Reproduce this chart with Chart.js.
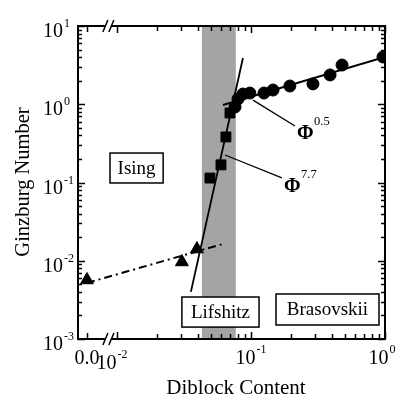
<!DOCTYPE html>
<html>
<head>
<meta charset="utf-8">
<script src="https://cdn.jsdelivr.net/npm/chart.js@4/dist/chart.umd.min.js"></script>
<style>
  body { margin: 0; background: #fff; }
  canvas { display: block; }
</style>
</head>
<body>
<canvas id="myChart" width="395" height="396"></canvas>
<script>
// measured points (x = diblock content, y = Ginzburg number)
const triX = [0, 0.0305, 0.0395];
const triY = [0.00568, 0.00964, 0.0141];
const sqX = [0.0494, 0.0597, 0.065, 0.0697];
const sqY = [0.114, 0.168, 0.382, 0.773];
const circX = [0.076, 0.080, 0.087, 0.098, 0.125, 0.146, 0.195, 0.290, 0.389, 0.478, 0.966];
const circY = [0.922, 1.17, 1.35, 1.39, 1.39, 1.52, 1.71, 1.82, 2.37, 3.17, 4.02];

// fitted lines
const isingFitX = [0, 0.0618];
const isingFitY = [0.0052, 0.0164];
const lifshitzFitX = [0.0356, 0.0871];
const lifshitzFitY = [0.0040, 3.90];
const brasFitX = [0.0618, 1.0];
const brasFitY = [0.978, 4.02];

// shaded crossover band
const band = [0.043, 0.077];

// tick labels
const yTickExps = [-3, -2, -1, 0, 1];
const xTickLabels = [
    { v: 0, text: "0.0" },
    { v: 0.01, base: "10", exp: "-2", dx: -5, dy: 5 },
    { v: 0.1, base: "10", exp: "-1" },
    { v: 1, base: "10", exp: "0", dx: -3 }
];

// zero has no place on a log axis, it sits left of the break
const ZERO_AT = 0.00597;
const BREAK_AT = 0.0087;

const regionBoxes = [
    { text: "Ising", x0: 0.00887, x1: 0.0221, y0: 0.0986, y1: 0.238 },
    { text: "Lifshitz", x0: 0.0305, x1: 0.1148, y0: 0.00142, y1: 0.00344 },
    { text: "Brasovskii", x0: 0.1537, x1: 0.902, y0: 0.00151, y1: 0.00376 }
];

const phiLabels = [
    { exp: "0.5", from: [0.1035, 1.13], to: [0.213, 0.527], at: [0.2244, 0.370] },
    { exp: "7.7", from: [0.0640, 0.2246], to: [0.170, 0.1143], at: [0.1794, 0.0778] }
];

const SERIF = '"Liberation Serif", "DejaVu Serif", serif';

function pts(xs, ys) {
    return xs.map((v, i) => ({ x: v === 0 ? ZERO_AT : v, y: ys[i] }));
}

function drawPow(ctx, base, exp, x, y, size, supY) {
    ctx.font = size + "px " + SERIF;
    ctx.textAlign = "left";
    ctx.fillText(base, x, y);
    const w = ctx.measureText(base).width;
    ctx.font = Math.round(size * 0.62) + "px " + SERIF;
    ctx.fillText(exp, x + w + 1, supY);
}

function powWidth(ctx, base, exp, size) {
    ctx.font = size + "px " + SERIF;
    const w = ctx.measureText(base).width;
    ctx.font = Math.round(size * 0.62) + "px " + SERIF;
    return w + 1 + ctx.measureText(exp).width;
}

const decor = {
    id: "decor",
    beforeDatasetsDraw(chart) {
        const { ctx, chartArea: a, scales: { x } } = chart;
        const x0 = x.getPixelForValue(band[0]);
        const x1 = x.getPixelForValue(band[1]);
        ctx.save();
        ctx.fillStyle = "#a4a4a4";
        ctx.fillRect(x0, a.top, x1 - x0, a.bottom - a.top);
        ctx.restore();
    },
    afterDatasetsDraw(chart) {
        const { ctx, chartArea: a, scales: { x, y } } = chart;
        ctx.save();
        ctx.strokeStyle = "#000";
        ctx.fillStyle = "#000";

        // frame
        ctx.lineWidth = 2;
        ctx.strokeRect(a.left, a.top, a.right - a.left, a.bottom - a.top);

        // y ticks, both sides
        ctx.lineWidth = 1.5;
        ctx.beginPath();
        for (const e of yTickExps) {
            for (let m = 1; m <= 9; m++) {
                if (e === 1 && m > 1) break;
                const py = Math.round(y.getPixelForValue(m * Math.pow(10, e))) + 0.5;
                const len = m === 1 ? 7 : 4;
                ctx.moveTo(a.left, py); ctx.lineTo(a.left + len, py);
                ctx.moveTo(a.right, py); ctx.lineTo(a.right - len, py);
            }
        }
        // x ticks, top and bottom
        const xt = [{ v: ZERO_AT, len: 6 }];
        for (const e of [-2, -1, 0]) {
            for (let m = 1; m <= 9; m++) {
                if (e === 0 && m > 1) break;
                xt.push({ v: m * Math.pow(10, e), len: m === 1 ? 7 : 5 });
            }
        }
        for (const t of xt) {
            const px = Math.round(x.getPixelForValue(t.v)) + 0.5;
            ctx.moveTo(px, a.bottom); ctx.lineTo(px, a.bottom - t.len);
            ctx.moveTo(px, a.top); ctx.lineTo(px, a.top + t.len);
        }
        ctx.stroke();

        // axis breaks
        const bx = x.getPixelForValue(BREAK_AT);
        for (const by of [a.top, a.bottom]) {
            ctx.fillStyle = "#fff";
            ctx.fillRect(bx - 4, by - 2, 6, 4);
            ctx.beginPath();
            ctx.lineWidth = 1.5;
            ctx.moveTo(bx - 6, by + 6); ctx.lineTo(bx - 1, by - 6);
            ctx.moveTo(bx, by + 6); ctx.lineTo(bx + 5, by - 6);
            ctx.stroke();
        }
        ctx.fillStyle = "#000";

        // y tick labels
        for (const e of yTickExps) {
            const py = y.getPixelForValue(Math.pow(10, e));
            drawPow(ctx, "10", String(e), 43, py + 11, 20, py + 1);
        }
        // x tick labels
        for (const t of xTickLabels) {
            const px = x.getPixelForValue(t.v === 0 ? ZERO_AT : t.v) + (t.dx || 0);
            const by = a.bottom + 25 + (t.dy || 0);
            if (t.exp === undefined) {
                ctx.font = "20px " + SERIF;
                ctx.textAlign = "center";
                ctx.fillText(t.text, px, by);
            } else {
                const w = powWidth(ctx, t.base, t.exp, 20);
                drawPow(ctx, t.base, t.exp, px - w / 2, by, 20, by - 11);
            }
        }

        // axis titles
        ctx.font = "21px " + SERIF;
        ctx.textAlign = "center";
        ctx.fillText("Diblock Content", 236, 394);
        ctx.save();
        ctx.translate(29, 182);
        ctx.rotate(-Math.PI / 2);
        ctx.font = "20.5px " + SERIF;
        ctx.fillText("Ginzburg Number", 0, 0);
        ctx.restore();

        // region boxes
        for (const b of regionBoxes) {
            const x0 = x.getPixelForValue(b.x0), x1 = x.getPixelForValue(b.x1);
            const y0 = y.getPixelForValue(b.y1), y1 = y.getPixelForValue(b.y0);
            ctx.fillStyle = "#fff";
            ctx.fillRect(x0, y0, x1 - x0, y1 - y0);
            ctx.lineWidth = 1.5;
            ctx.strokeRect(x0, y0, x1 - x0, y1 - y0);
            ctx.fillStyle = "#000";
            ctx.font = "19px " + SERIF;
            ctx.textAlign = "center";
            ctx.fillText(b.text, (x0 + x1) / 2, (y0 + y1) / 2 + 6);
        }

        // slope labels with leader lines
        for (const p of phiLabels) {
            ctx.lineWidth = 1.3;
            ctx.beginPath();
            ctx.moveTo(x.getPixelForValue(p.from[0]), y.getPixelForValue(p.from[1]));
            ctx.lineTo(x.getPixelForValue(p.to[0]), y.getPixelForValue(p.to[1]));
            ctx.stroke();
            const lx = x.getPixelForValue(p.at[0]), ly = y.getPixelForValue(p.at[1]);
            ctx.font = "bold 20px " + SERIF;
            ctx.textAlign = "left";
            ctx.fillText("\u03A6", lx - 1, ly + 1);
            ctx.font = "12.5px " + SERIF;
            ctx.fillText(p.exp, lx + 16, ly - 13);
        }
        ctx.restore();
    }
};

const ctx = document.getElementById("myChart").getContext("2d");

const chart = new Chart(ctx, {
    type: "scatter",
    data: {
        datasets: [
            {
                data: pts(circX, circY),
                pointStyle: "circle", pointRadius: 6,
                backgroundColor: "#000", borderColor: "#000"
            },
            {
                data: pts(sqX, sqY),
                pointStyle: "rect", pointRadius: 7,
                backgroundColor: "#000", borderColor: "#000"
            },
            {
                data: pts(triX, triY),
                pointStyle: "triangle", pointRadius: 7.5,
                backgroundColor: "#000", borderColor: "#000"
            },
            {
                data: pts(brasFitX, brasFitY),
                showLine: true, pointRadius: 0,
                borderColor: "#000", borderWidth: 2
            },
            {
                data: pts(lifshitzFitX, lifshitzFitY),
                showLine: true, pointRadius: 0,
                borderColor: "#000", borderWidth: 1.8
            },
            {
                data: pts(isingFitX, isingFitY),
                showLine: true, pointRadius: 0,
                borderColor: "#000", borderWidth: 2,
                borderDash: [8, 4, 2, 4]
            }
        ]
    },
    options: {
        responsive: false,
        animation: false,
        layout: { padding: { left: 78, right: 10, top: 26, bottom: 57 } },
        plugins: {
            legend: { display: false },
            tooltip: { enabled: false }
        },
        scales: {
            x: { type: "logarithmic", min: Math.pow(10, -2.291), max: 1, bounds: "data", display: false },
            y: { type: "logarithmic", min: 0.001, max: 10, bounds: "data", display: false }
        }
    },
    plugins: [decor]
});
</script>
</body>
</html>
